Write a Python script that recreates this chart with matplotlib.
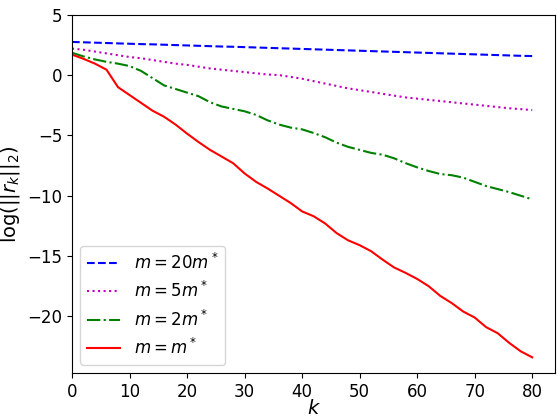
import matplotlib
matplotlib.use('Agg')
import matplotlib.pyplot as plt
import numpy as np

# 迭代步数 (每隔2步取一个点)
k = np.arange(0, 81, 2)

# log(||r_k||_2) 读图估计
m20 = [2.75, 2.72, 2.69, 2.66, 2.63, 2.60, 2.57, 2.55, 2.52, 2.49,
       2.46, 2.43, 2.40, 2.37, 2.35, 2.32, 2.29, 2.26, 2.23, 2.20,
       2.17, 2.14, 2.11, 2.08, 2.05, 2.02, 1.99, 1.96, 1.93, 1.90,
       1.87, 1.84, 1.81, 1.78, 1.75, 1.72, 1.69, 1.66, 1.63, 1.60, 1.58]
m5 = [2.2, 2.1, 1.95, 1.8, 1.65, 1.5, 1.4, 1.25, 1.1, 0.95,
      0.85, 0.7, 0.55, 0.45, 0.35, 0.25, 0.15, 0.05, 0.0, -0.15,
      -0.3, -0.5, -0.7, -0.9, -1.1, -1.25, -1.4, -1.55, -1.7, -1.85,
      -1.95, -2.05, -2.15, -2.25, -2.35, -2.45, -2.55, -2.65, -2.75, -2.82, -2.9]
m2 = [1.85, 1.55, 1.3, 1.1, 0.95, 0.75, 0.35, -0.25, -0.85, -1.15,
      -1.45, -1.75, -2.25, -2.6, -2.8, -3.0, -3.3, -3.75, -4.1, -4.35,
      -4.5, -4.8, -5.15, -5.6, -5.95, -6.2, -6.45, -6.6, -6.9, -7.3,
      -7.65, -7.95, -8.2, -8.3, -8.5, -8.85, -9.2, -9.45, -9.7, -10.0, -10.3]
m1 = [1.7, 1.35, 0.95, 0.45, -1.0, -1.65, -2.3, -2.95, -3.45, -4.1,
      -4.85, -5.55, -6.2, -6.75, -7.3, -8.15, -8.85, -9.4, -10.0, -10.6,
      -11.3, -11.7, -12.3, -13.1, -13.7, -14.1, -14.6, -15.3, -15.95, -16.4,
      -16.9, -17.5, -18.3, -18.9, -19.6, -20.1, -20.9, -21.4, -22.2, -22.9, -23.4]

fig = plt.figure(figsize=(5.58, 4.17), dpi=100)
ax = fig.add_axes([0.129, 0.1055, 0.866, 0.859])

ax.plot(k, m20, 'b--', lw=1.5, label=r'$m=20m^*$')
ax.plot(k, m5, 'm:', lw=1.5, label=r'$m=5m^*$')
ax.plot(k, m2, 'g-.', lw=1.5, label=r'$m=2m^*$')
ax.plot(k, m1, 'r-', lw=1.5, label=r'$m=m^*$')

ax.set_xlim(0, 84)
ax.set_ylim(-24.7, 5)
ax.set_xticks(range(0, 81, 10))
ax.set_yticks([-20, -15, -10, -5, 0, 5])
ax.tick_params(labelsize=12)
ax.set_xlabel(r'$k$', fontsize=14, labelpad=-1)
ax.set_ylabel(r'$\log(||r_k||_2)$', fontsize=14)
ax.legend(loc='lower left', fontsize=12)

fig.savefig('out.png', dpi=100)
